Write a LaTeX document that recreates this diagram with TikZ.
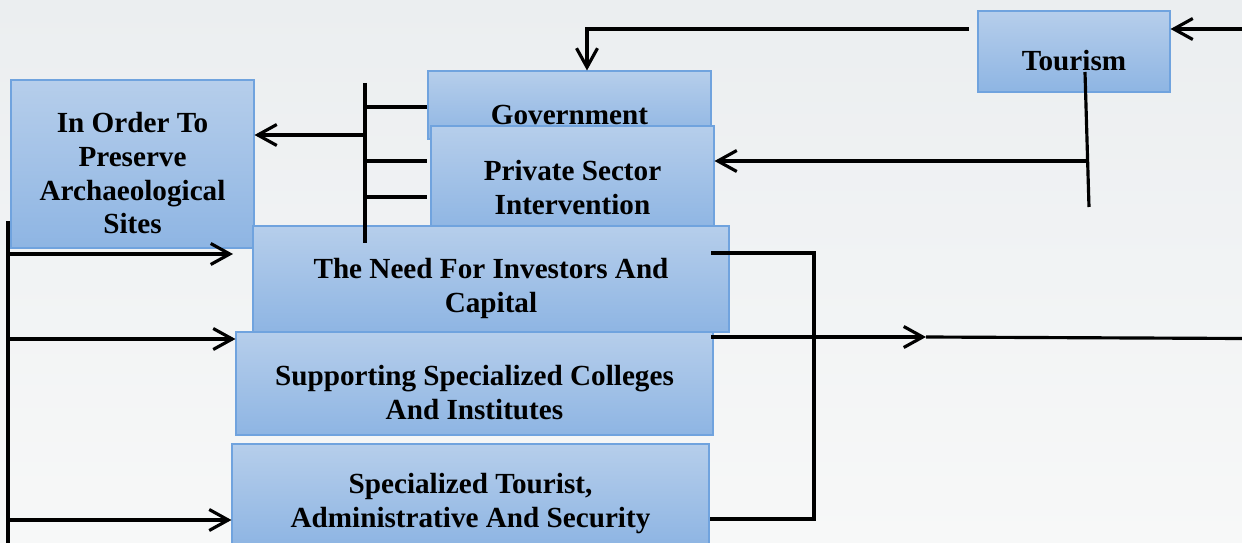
\documentclass[tikz,border=0pt]{standalone}
\usepackage{fontspec}
\setmainfont{Liberation Serif}
\usetikzlibrary{arrows.meta}
\definecolor{boxtop}{RGB}{182,206,235}
\definecolor{boxbot}{RGB}{142,181,227}
\definecolor{boxline}{RGB}{112,163,222}
\definecolor{bgtop}{RGB}{235,238,240}
\definecolor{bgbot}{RGB}{247,248,248}
\newcommand\toppad{\rule{0pt}{22pt}}
\begin{document}
\begin{tikzpicture}
  [
    every node/.style = {font = \bfseries\fontsize{16.6}{19.2}\selectfont},
    box/.style = {draw = boxline, line width = 0.6pt, top color = boxtop, bottom color = boxbot,
                  rectangle, align = center, inner sep = 0pt},
    arr/.style = {-{Straight Barb[length = 0.38cm, width = 0.42cm]}},
    line width = 1.8pt
  ]
    \useasboundingbox (0,0) rectangle (24.84,-10.86);
    \shade [top color = bgtop, bottom color = bgbot] (0,0) rectangle (24.84,-10.86);
    % boxes
    \node (gov) [box, minimum width = 5.66cm, minimum height = 1.36cm] at (11.39,-2.10) {\toppad Government};
    \node (priv) [box, minimum width = 5.66cm, minimum height = 2.08cm] at (11.45,-3.56) {\toppad Private Sector\\Intervention};
    \node (pres) [box, minimum width = 4.86cm, minimum height = 3.36cm] at (2.65,-3.28) {\toppad In Order To\\Preserve\\Archaeological\\Sites};
    \node (need) [box, minimum width = 9.52cm, minimum height = 2.12cm] at (9.82,-5.58) {\toppad The Need For Investors And\\Capital};
    \node (supp) [box, minimum width = 9.54cm, minimum height = 2.06cm] at (9.49,-7.67) {\toppad Supporting Specialized Colleges\\And Institutes};
    \node (spec) [box, minimum width = 9.54cm, minimum height = 2.02cm] at (9.41,-9.89) {\toppad Specialized Tourist,\\Administrative And Security};
    \node (tour) [box, minimum width = 3.84cm, minimum height = 1.62cm] at (21.48,-1.03) {\toppad Tourism};
    % tourism side
    \coordinate (tl) at (19.38,-0.58);
    \coordinate (tr) at (24.84,-0.58);
    \draw [arr] (tl) -| ([xshift = 0.35cm]gov.north);
    \draw [arr] (tr) -- (tour.east |- tr);
    \coordinate (tv) at (21.70,-1.44);
    \coordinate (tw) at (21.78,-4.14);
    \coordinate (tj) at (21.74,-3.22);
    \draw (tv) -- (tw);
    \draw [arr] (tj) -- (priv.east |- tj);
    % bus left of government
    \coordinate (bt) at (7.30,-1.66);
    \coordinate (bb) at (7.30,-4.86);
    \coordinate (b1) at (7.30,-2.14);
    \coordinate (b2) at (7.30,-3.22);
    \coordinate (b3) at (7.30,-3.94);
    \coordinate (bo) at (7.30,-2.70);
    \draw (bt) -- (bb);
    \draw (b1) -- (gov.west |- b1);
    \draw (b2) -- (gov.west |- b2);
    \draw (b3) -- (gov.west |- b3);
    \draw [arr] (bo) -- (pres.east |- bo);
    % left line
    \coordinate (lt) at (0.16,-4.42);
    \coordinate (lb) at (0.16,-10.86);
    \coordinate (l1) at (0.16,-5.08);
    \coordinate (l2) at (0.16,-6.78);
    \coordinate (l3) at (0.16,-10.40);
    \draw (lt) -- (lb);
    \draw [arr] (l1) --++ (4.5,0);
    \draw [arr] (l2) -- (supp.west |- l2);
    \draw [arr] (l3) -- (spec.west |- l3);
    % right bracket
    \coordinate (r1) at (14.22,-5.06);
    \coordinate (rt) at (16.28,-5.06);
    \coordinate (rb) at (16.28,-10.38);
    \draw (r1) -- (rt) -- (rb) -- (spec.east |- rb);
    \coordinate (m1) at (14.22,-6.74);
    \coordinate (m2) at (18.52,-6.74);
    \coordinate (m3) at (24.84,-6.77);
    \draw [arr] (m1) -- (m2);
    \draw (m2) -- (m3);
\end{tikzpicture}
\end{document}
